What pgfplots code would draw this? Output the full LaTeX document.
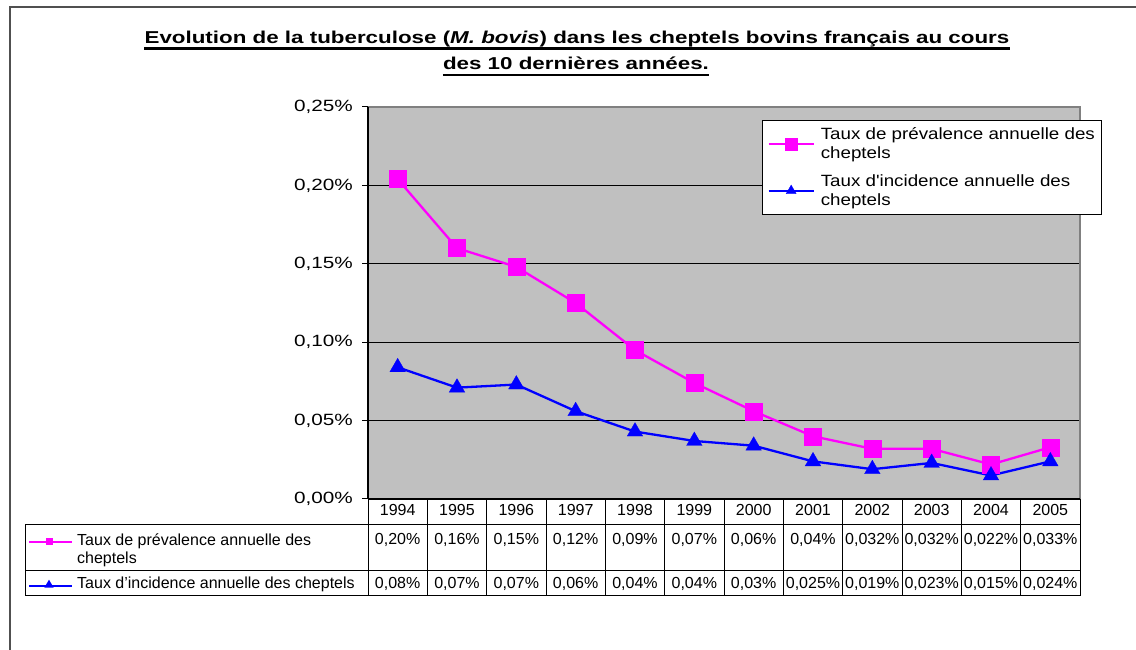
\documentclass[border=0pt]{standalone}
\usepackage{fontspec}
\setmainfont{Liberation Sans}
\newfontfamily\titlefont[FakeStretch=1.30]{Liberation Sans}
\newfontfamily\tickfont[FakeStretch=1.27]{Liberation Sans}
\newfontfamily\legfont[FakeStretch=1.15]{Liberation Sans}
\usepackage{pgfplots}
\usepackage{pgfplotstable}
\usetikzlibrary{shapes.geometric}
\pgfplotsset{compat=1.18}
\definecolor{plotgray}{RGB}{192,192,192}
\definecolor{mag}{RGB}{255,0,255}
\definecolor{blu}{RGB}{0,0,255}
\definecolor{framec}{RGB}{80,80,80}
\definecolor{bordc}{RGB}{128,128,128}

\pgfplotstableread{
x prev inc
0  0.204 0.084
1  0.160 0.071
2  0.148 0.073
3  0.125 0.056
4  0.095 0.043
5  0.074 0.037
6  0.056 0.034
7  0.040 0.024
8  0.032 0.019
9  0.032 0.023
10 0.022 0.015
11 0.033 0.024
}\datatable

\begin{document}
\begin{tikzpicture}
% outer frame
\draw[framec, line width=2pt] (10pt,0pt) -- (10pt,643pt) -- (1136pt,643pt);

% title
\node[anchor=base, inner sep=0pt, font=\titlefont\bfseries\fontsize{17.2}{20}\selectfont] (t1) at (577pt,606.7pt)
  {Evolution de la tuberculose (\textit{M. bovis}) dans les cheptels bovins français au cours};
\draw[line width=2.6pt] ([yshift=-5pt]t1.base west) -- ([yshift=-5pt]t1.base east);
\node[anchor=base, inner sep=0pt, font=\titlefont\bfseries\fontsize{17.2}{20}\selectfont] (t2) at (576pt,580pt)
  {des 10 dernières années.};
\draw[line width=2.6pt] ([yshift=-5pt]t2.base west) -- ([yshift=-5pt]t2.base east);

\begin{axis}[
  at={(368pt,151pt)}, anchor=south west,
  scale only axis, width=712pt, height=392pt,
  xmin=-0.5, xmax=11.5, ymin=0, ymax=0.25,
  clip=false,
  axis background/.style={fill=plotgray},
  axis line style={draw=none},
  xtick=\empty,
  ytick={0,0.05,0.1,0.15,0.2,0.25},
  ytick pos=left,
  yticklabels={{0,00\%},{0,05\%},{0,10\%},{0,15\%},{0,20\%},{0,25\%}},
  yticklabel style={font=\tickfont\fontsize{16.3}{19}\selectfont, anchor=east, inner sep=0pt, xshift=-9pt},
  tick align=outside, major tick length=6pt,
  ytick style={black, line width=1pt},
  ymajorgrids, grid style={black, line width=1pt},
  legend style={at={(rel axis cs:0.5534,0.967)}, anchor=north west,
    draw=black, line width=1pt, fill=white,
    font=\legfont\fontsize{16.3}{19.5}\selectfont,
    cells={anchor=west, align=left},
    inner xsep=5pt, inner ysep=5pt, row sep=10pt,
    /tikz/every odd column/.append style={column sep=4pt}},
  legend image code/.code={\draw[mark repeat=2,mark phase=2,#1] plot coordinates {(0pt,0pt) (22.5pt,0pt) (45pt,0pt)};},
]
\addplot[mag, line width=2.3pt, mark=square*, mark size=8.5pt, mark options={solid, line width=0.3pt},
  legend image post style={mark size=6pt}]
  table[x=x, y=prev] {\datatable};
\addlegendentry{Taux de prévalence annuelle des\\cheptels}
\addplot[blu, line width=2.3pt, mark=triangle*, mark size=9pt, mark options={solid, line width=0.3pt},
  legend image post style={mark size=5.8pt}]
  table[x=x, y=inc] {\datatable};
\addlegendentry{Taux d\symbol{39}incidence annuelle des\\cheptels}
\draw[bordc, line width=2pt] (rel axis cs:0,1) -- (rel axis cs:1,1) -- (rel axis cs:1,0);
\draw[black, line width=1.6pt] (rel axis cs:0,0) -- (rel axis cs:0,1);
\draw[black, line width=2pt] (rel axis cs:0,0) -- (rel axis cs:1,0);
\end{axis}

% data table
\begin{scope}[line width=1pt, black]
\draw (25pt,125pt) -- (1080pt,125pt);
\draw (25pt,79pt) -- (1080pt,79pt);
\draw (25pt,54pt) -- (1080pt,54pt);
\draw (25pt,125pt) -- (25pt,54pt);
\foreach \k in {0,...,12} \draw ({368pt+59.3333pt*\k},151pt) -- ({368pt+59.3333pt*\k},54pt);
\end{scope}
\begin{scope}[font=\fontsize{16}{19}\selectfont]
\foreach \yr/\p/\c [count=\k from 0] in {
  1994/0{,}20\%/0{,}08\%, 1995/0{,}16\%/0{,}07\%, 1996/0{,}15\%/0{,}07\%,
  1997/0{,}12\%/0{,}06\%, 1998/0{,}09\%/0{,}04\%, 1999/0{,}07\%/0{,}04\%,
  2000/0{,}06\%/0{,}03\%, 2001/0{,}04\%/0{,}025\%, 2002/0{,}032\%/0{,}019\%,
  2003/0{,}032\%/0{,}023\%, 2004/0{,}022\%/0{,}015\%, 2005/0{,}033\%/0{,}024\%}{
  \node[anchor=base, inner sep=0pt] at ({368pt+59.3333pt*(\k+0.5)},134pt) {\yr};
  \node[anchor=base, inner sep=0pt] at ({368pt+59.3333pt*(\k+0.5)},105pt) {\p};
  \node[anchor=base, inner sep=0pt] at ({368pt+59.3333pt*(\k+0.5)},61pt) {\c};
}
\node[anchor=base west, inner sep=0pt] at (77pt,104pt) {Taux de prévalence annuelle des};
\node[anchor=base west, inner sep=0pt] at (77pt,86pt) {cheptels};
\node[anchor=base west, inner sep=0pt] at (77pt,61pt) {Taux d\symbol{39}incidence annuelle des cheptels};
\end{scope}
% table legend keys
\draw[mag, line width=2pt] (29pt,108pt) -- (72pt,108pt);
\node[fill=mag, inner sep=0pt, minimum size=7pt] at (49pt,108pt) {};
\draw[blu, line width=2pt] (29pt,64pt) -- (72pt,64pt);
\node[fill=blu, isosceles triangle, isosceles triangle apex angle=60, shape border rotate=90, inner sep=0pt, minimum size=8pt] at (49pt,65pt) {};

\pgfresetboundingbox
\path[use as bounding box] (0pt,0pt) rectangle (1136pt,650pt);
\end{tikzpicture}
\end{document}
